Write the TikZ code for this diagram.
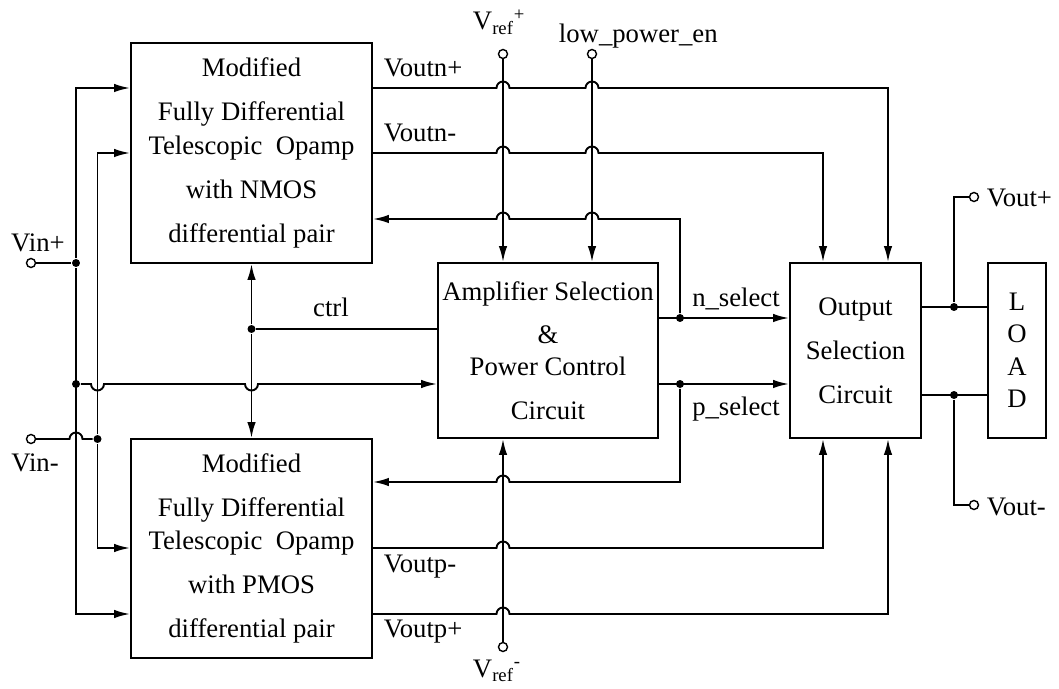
\documentclass[tikz,border=0pt]{standalone}
\usepackage{fontspec}
\setmainfont{Liberation Serif}
\usetikzlibrary{arrows.meta}

\newcommand{\hopup}[1]{-- ([xshift=-0.13cm]#1) arc[start angle=180,end angle=0,radius=0.13cm]}
\newcommand{\hopdown}[1]{-- ([xshift=-0.13cm]#1) arc[start angle=180,end angle=360,radius=0.13cm]}

\tikzset{
  block/.style={draw,line width=1.1pt,inner sep=0pt,align=center},
  junction/.style={circle,fill,inner sep=0pt,minimum size=0.16cm},
  term/.style={circle,draw,fill=white,inner sep=0pt,minimum size=0.18cm,line width=0.8pt},
  lbl/.style={inner sep=0pt}
}

\begin{document}
\begin{tikzpicture}[x=0.02cm,y=-0.02cm,line width=1.1pt,font=\fontsize{15.2}{25}\selectfont,
  >={Latex[length=0.32cm,width=0.17cm]}]
  \useasboundingbox (0,0) rectangle (1059,689);
  % blocks
  \node[block,minimum width=4.82cm,minimum height=4.4cm] (nmos) at (251.5,153)
    {Modified\\Fully Differential\\[-6pt]Telescopic\ \ Opamp\\with NMOS\\differential pair};
  \node[block,minimum width=4.82cm,minimum height=4.38cm] (pmos) at (251.5,548.5)
    {Modified\\Fully Differential\\[-6pt]Telescopic\ \ Opamp\\with PMOS\\differential pair};
  \node[block,minimum width=4.4cm,minimum height=3.5cm] (amp) at (548,350.5)
    {Amplifier Selection\\\&\\[-7pt]Power Control\\Circuit};
  \node[block,minimum width=2.62cm,minimum height=3.5cm] (osel) at (855.5,350.5)
    {Output\\Selection\\Circuit};
  \node[block,minimum width=1.16cm,minimum height=3.5cm,font=\fontsize{15.2}{18.5}\selectfont] (load) at (1017,350.5)
    {L\\O\\A\\D};

  % terminals and junctions
  \node[term] (vinp) at (31,263) {};
  \node[term] (vinm) at (31,439) {};
  \node[term] (vrefp) at (503,54) {};
  \node[term] (lpen) at (592,54) {};
  \node[term] (vrefm) at (503,647) {};
  \node[term] (voutp) at (974,197) {};
  \node[term] (voutm) at (974,505) {};
  \node[junction] (jinp) at (76,263) {};
  \node[junction] (jina) at (76,384) {};
  \node[junction] (jinm) at (97.5,439) {};
  \node[junction] (jctrl) at (251.5,329) {};
  \node[junction] (jnsel) at (680,318) {};
  \node[junction] (jpsel) at (680,384) {};
  \node[junction] (jop) at (954,307) {};
  \node[junction] (jom) at (954,395) {};

  \coordinate (bpt) at (76,88);
  \coordinate (bpb) at (76,614);
  \coordinate (bmt) at (97.5,153);
  \coordinate (bmb) at (97.5,548);
  \coordinate (vnp) at (888,88);
  \coordinate (vnm) at (823,153);
  \coordinate (fbn) at (680,219);
  \coordinate (fbp) at (680,482);
  \coordinate (vpm) at (823,548);
  \coordinate (vpp) at (888,614);
  \coordinate (vopc) at (954,197);
  \coordinate (vomc) at (954,505);

  % inputs
  \draw (vinp) -- (jinp);
  \draw[->] (jinp) -- (bpt) -- (nmos.west|-bpt);
  \draw[->] (jinp) -- (bpb) -- (pmos.west|-bpb);
  \draw (vinm) \hopup{bpt|-vinm} -- (jinm);
  \draw[->] (jinm) -- (bmt) -- (nmos.west|-bmt);
  \draw[->] (jinm) -- (bmb) -- (pmos.west|-bmb);
  \draw[->] (jina) \hopdown{bmt|-jina} \hopdown{nmos.south|-jina} -- (amp.west|-jina);

  % control
  \draw (amp.west|-jctrl) -- (jctrl);
  \draw[->] (jctrl) -- (nmos.south);
  \draw[->] (jctrl) -- (pmos.north);
  \draw[->] (vrefp) -- (vrefp|-amp.north);
  \draw[->] (lpen) -- (lpen|-amp.north);
  \draw[->] (vrefm) -- (vrefm|-amp.south);

  % opamp outputs and select lines
  \draw[->] (nmos.east|-vnp) \hopup{vrefp|-vnp} \hopup{lpen|-vnp} -- (vnp) -- (vnp|-osel.north);
  \draw[->] (nmos.east|-vnm) \hopup{vrefp|-vnm} \hopup{lpen|-vnm} -- (vnm) -- (vnm|-osel.north);
  \draw[<-] (nmos.east|-fbn) \hopup{vrefp|-fbn} \hopup{lpen|-fbn} -- (fbn) -- (jnsel);
  \draw[->] (amp.east|-jnsel) -- (osel.west|-jnsel);
  \draw[->] (amp.east|-jpsel) -- (osel.west|-jpsel);
  \draw[<-] (pmos.east|-fbp) \hopup{vrefm|-fbp} -- (fbp) -- (jpsel);
  \draw[->] (pmos.east|-vpm) \hopup{vrefm|-vpm} -- (vpm) -- (vpm|-osel.south);
  \draw[->] (pmos.east|-vpp) \hopup{vrefm|-vpp} -- (vpp) -- (vpp|-osel.south);

  % outputs
  \draw (osel.east|-jop) -- (load.west|-jop);
  \draw (osel.east|-jom) -- (load.west|-jom);
  \draw (jop) -- (vopc) -- (voutp);
  \draw (jom) -- (vomc) -- (voutm);

  % labels
  \node[lbl,anchor=base] (lvinp) at (38,252) {Vin+};
  \node[lbl,anchor=base] (lvinm) at (35,471) {Vin-};
  \node[lbl,anchor=base west] (lvrefp) at (472,30) {V\textsubscript{ref}\textsuperscript{+}};
  \node[lbl,anchor=base west] (llpen) at (558,43) {low\_power\_en};
  \node[lbl,anchor=base west] (lvrefm) at (472,677) {V\textsubscript{ref}\textsuperscript{-}};
  \node[lbl,anchor=base west] (lvnp) at (383,77) {Voutn+};
  \node[lbl,anchor=base west] (lvnm) at (383,142) {Voutn-};
  \node[lbl,anchor=base west] (lvpm) at (383,572) {Voutp-};
  \node[lbl,anchor=base west] (lvpp) at (383,637) {Voutp+};
  \node[lbl,anchor=base] (lctrl) at (331,317) {ctrl};
  \node[lbl,anchor=base] (lnsel) at (736,307) {n\_select};
  \node[lbl,anchor=base] (lpsel) at (736,416) {p\_select};
  \node[lbl,anchor=base west] (lvop) at (986,207) {Vout+};
  \node[lbl,anchor=base west] (lvom) at (986,515) {Vout-};
\end{tikzpicture}
\end{document}
